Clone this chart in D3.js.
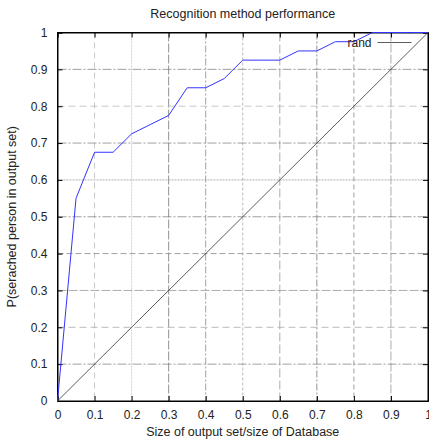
<html>
<head>
    <script src="https://cdn.jsdelivr.net/npm/d3@7"></script>
    <style>
        body { margin: 0; background: #fff; }
        text { font-family: "Liberation Sans", Arial, sans-serif; fill: #222; }
    </style>
</head>
<body>
    <svg width="429" height="439" id="plottin"></svg>
    <script>
        // data
        const outputSize = [0, 0.05, 0.1, 0.15, 0.2, 0.25, 0.3, 0.35, 0.4, 0.45, 0.5, 0.55, 0.6, 0.65, 0.7, 0.75, 0.8, 0.85, 0.9, 0.95, 1];
        const recognition = [0, 0.55, 0.675, 0.675, 0.725, 0.75, 0.775, 0.85, 0.85, 0.875, 0.925, 0.925, 0.925, 0.95, 0.95, 0.975, 0.975, 1, 1, 1, 1];
        const randX = [0, 1];
        const randY = [0, 1];
        const tickValues = [0, 0.1, 0.2, 0.3, 0.4, 0.5, 0.6, 0.7, 0.8, 0.9, 1];

        const margin = { top: 32.5, right: 1, bottom: 38, left: 57.5 };
        const svg = d3.select("#plottin");
        const width = +svg.attr("width");
        const height = +svg.attr("height");
        const chartWidth = width - margin.left - margin.right;
        const chartHeight = height - margin.top - margin.bottom;

        const xScale = d3.scaleLinear().domain([0, 1]).range([0, chartWidth]);
        const yScale = d3.scaleLinear().domain([0, 1]).range([chartHeight, 0]);

        const chart = svg.append("g").attr("transform", `translate(${margin.left}, ${margin.top})`);

        // gnuplot-ish grid, patterns differ per line
        const dashes = ["6,4", "2,1", "9,2", "7,2,2,2", "3,2", "9,3", "7,2,2,2", "5,3", "9,2"];
        const greys = ["#bbb", "#c4c4c4", "#777", "#888", "#aaa", "#999", "#777", "#888", "#999"];
        const inner = tickValues.slice(1, -1);

        chart.append("g").selectAll("line").data(inner).join("line")
            .attr("x1", d => xScale(d)).attr("x2", d => xScale(d))
            .attr("y1", 0).attr("y2", chartHeight)
            .attr("stroke", (d, i) => greys[i]).attr("stroke-width", 0.8)
            .attr("stroke-dasharray", (d, i) => dashes[i]);

        const hDashes = ["9,2,2,2", "7,4", "9,2", "6,3", "9,2,2,2", "2,1", "9,2,2,2", "7,4", "9,2,2,2"];
        const hGreys = ["#888", "#aaa", "#999", "#888", "#888", "#999", "#888", "#bbb", "#888"];
        chart.append("g").selectAll("line").data(inner).join("line")
            .attr("x1", 0).attr("x2", chartWidth)
            .attr("y1", d => yScale(d)).attr("y2", d => yScale(d))
            .attr("stroke", (d, i) => hGreys[i]).attr("stroke-width", 0.8)
            .attr("stroke-dasharray", (d, i) => hDashes[i]);

        // axes with ticks inside, mirrored
        const fmt = d => d3.format("")(d);
        chart.append("g").attr("transform", `translate(0, ${chartHeight})`)
            .call(d3.axisBottom(xScale).tickValues(tickValues).tickFormat(fmt).tickSize(-5).tickPadding(9));
        chart.append("g")
            .call(d3.axisLeft(yScale).tickValues(tickValues).tickFormat(fmt).tickSize(-5).tickPadding(10));
        chart.append("g").attr("transform", `translate(${chartWidth}, 0)`)
            .call(d3.axisRight(yScale).tickValues(tickValues).tickFormat("").tickSize(-5));
        chart.append("g")
            .call(d3.axisTop(xScale).tickValues(tickValues).tickFormat("").tickSize(-5));
        chart.selectAll(".domain").attr("stroke", "#000");
        chart.selectAll(".tick line").attr("stroke", "#000");
        chart.selectAll(".tick text").style("font-size", "12px").attr("fill", "#222");
        chart.append("rect").attr("width", chartWidth).attr("height", chartHeight)
            .attr("fill", "none").attr("stroke", "#000");

        // lines
        const line = d3.line().x(d => xScale(d[0])).y(d => yScale(d[1]));
        chart.append("path")
            .attr("d", line(randX.map((x, i) => [x, randY[i]])))
            .attr("fill", "none").attr("stroke", "#333").attr("stroke-width", 0.8);
        chart.append("path")
            .attr("d", line(outputSize.map((x, i) => [x, recognition[i]])))
            .attr("fill", "none").attr("stroke", "#3333ff").attr("stroke-width", 1);

        // legend
        chart.append("text").attr("x", 314).attr("y", 14).attr("text-anchor", "end")
            .style("font-size", "12px").text("rand");
        chart.append("line").attr("x1", 320).attr("x2", 354).attr("y1", 10).attr("y2", 10)
            .attr("stroke", "#333").attr("stroke-width", 0.8);

        // titles
        svg.append("text").attr("x", margin.left + chartWidth / 2).attr("y", 18).attr("text-anchor", "middle")
            .style("font-size", "12.5px").text("Recognition method performance");
        svg.append("text").attr("x", margin.left + chartWidth / 2).attr("y", 436).attr("text-anchor", "middle")
            .style("font-size", "12.5px").text("Size of output set/size of Database");
        svg.append("text").attr("transform", `translate(16, ${margin.top + chartHeight / 2}) rotate(-90)`)
            .attr("text-anchor", "middle").style("font-size", "12.5px").text("P(serached person in output set)");
    </script>
</body>
</html>
